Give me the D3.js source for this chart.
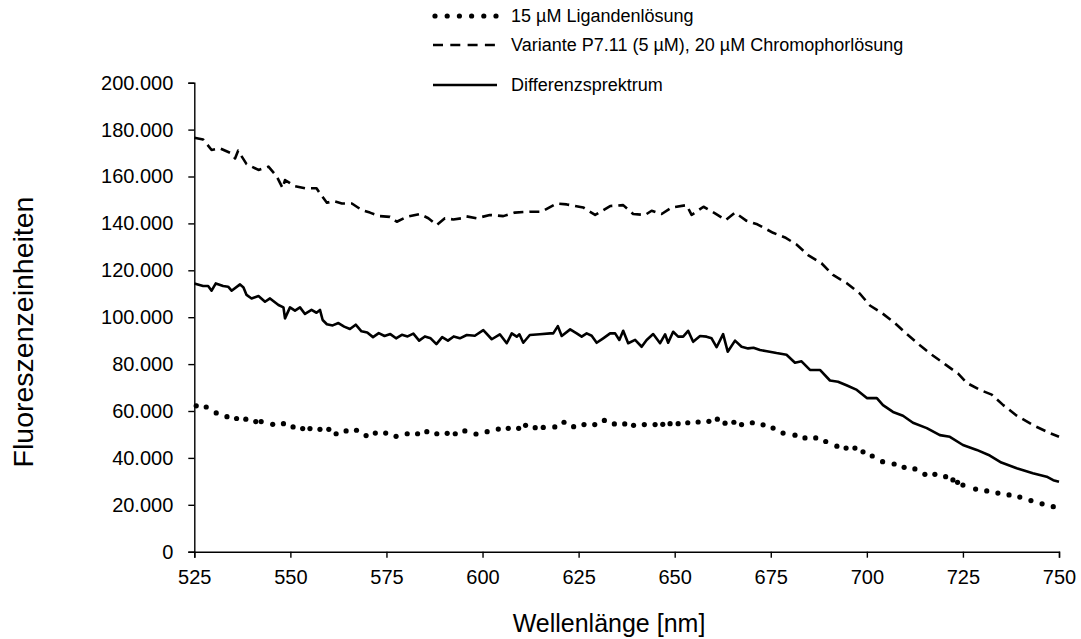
<!DOCTYPE html>
<html>
<head>
<meta charset="utf-8">
<script src="https://cdn.jsdelivr.net/npm/d3@7"></script>
<style>
  html, body { margin: 0; padding: 0; background: #fff; }
  svg { display: block; font-family: "Liberation Sans", Arial, sans-serif; }
</style>
</head>
<body>
<svg id="chart" width="1081" height="639"></svg>
<script>
// Wellenlänge [nm] und Fluoreszenz je Messreihe

// 15 µM Ligandenlösung
const ligandWl = [525.5,528.1,530.7,533.5,536.0,538.4,541.0,542.4,545.4,548.2,550.7,553.2,555.1,557.7,560.0,561.9,564.5,567.2,569.7,572.1,574.8,577.5,580.4,583.1,585.5,588.1,590.8,592.9,595.4,598.3,601.2,604.1,606.7,609.4,611.2,613.7,615.8,618.8,621.2,623.7,626.4,629.2,631.7,634.3,637.0,639.3,642.1,644.9,646.9,648.8,650.9,653.4,656.1,658.9,661.1,663.1,665.4,667.4,670.2,673.0,675.6,678.2,681.3,683.9,686.7,689.3,692.2,694.6,696.9,699.0,701.4,704.1,707.1,709.7,712.5,715.1,717.7,720.5,722.4,723.6,725.0,728.3,731.2,734.1,737.0,739.8,742.7,745.6,748.5];
const ligandVal = [62200,61700,59200,57600,56800,56500,55500,55500,54300,54600,53200,52500,52500,52200,52200,50300,51500,51800,49500,50600,50600,49200,50300,50300,51200,50300,50500,50300,51500,50200,51200,52300,52600,52600,53900,52900,53000,53200,55200,53300,54200,54200,56000,54500,54500,53900,54200,54200,54300,54600,54600,55000,55300,55600,56500,54800,55200,54200,55000,54100,52700,50600,49700,48500,48500,47000,45000,44200,44200,42600,40800,38400,37400,36000,35300,33000,33000,32000,30600,29600,28400,26700,25900,25000,24200,23300,21800,20400,19200];

// Variante P7.11 (5 µM), 20 µM Chromophorlösung
const varianteWl = [525.0,527.3,529.5,531.7,534.3,535.6,536.4,538.6,541.7,544.3,546.4,548.0,548.6,551.2,553.8,556.8,557.7,559.5,561.2,563.4,566.0,568.6,570.7,573.3,575.9,577.7,580.3,583.7,585.9,588.1,590.2,592.4,594.6,595.8,598.5,601.9,605.4,608.4,612.3,615.4,619.3,621.9,626.2,629.3,633.2,636.6,639.2,642.3,644.0,646.6,649.2,653.1,654.4,657.5,660.5,663.3,665.7,668.7,671.5,675.6,678.7,681.7,684.7,688.2,691.2,694.7,698.2,700.8,703.9,707.3,710.4,713.8,716.9,720.3,723.7,726.0,729.4,732.5,735.5,739.0,743.2,747.7,750.0];
const varianteVal = [176500,175800,171300,172000,170100,167700,171000,165300,162800,164200,160200,155000,158500,155900,155000,155000,152800,148800,149500,148500,148500,145700,144600,143100,142800,140700,142800,144000,142200,139300,142200,141700,142200,143000,142200,143600,143100,144600,145000,145000,148500,148100,146800,143600,147400,147800,144000,143600,145400,144000,146800,147800,143600,147100,144300,141400,144600,141100,139600,136000,134000,131000,126500,123000,118000,114600,110000,105000,101800,97500,92800,88000,84000,80000,76000,72000,69000,67000,62500,58000,54000,50500,49000];

// Differenzspektrum
const diffWl = [525.0,527.3,528.6,529.5,530.6,532.5,533.8,534.7,536.9,537.8,538.6,539.9,541.7,543.4,544.7,546.9,548.2,548.6,549.9,551.2,552.5,553.8,555.5,556.8,557.7,558.4,559.5,561.0,562.5,564.0,565.5,567.0,568.5,570.0,571.5,573.0,574.5,576.0,577.5,579.0,580.5,582.0,583.5,585.0,586.5,588.0,589.5,591.0,592.5,594.1,595.9,598.0,600.2,602.4,604.5,606.3,607.6,608.9,609.6,610.6,612.3,614.9,617.6,618.4,619.6,620.6,622.8,624.5,625.8,627.1,628.4,629.7,631.4,633.2,634.5,635.6,636.6,637.9,639.7,641.4,642.7,644.4,646.2,647.5,648.3,649.6,650.9,652.2,653.5,654.8,656.6,658.3,659.6,660.9,662.6,663.8,665.7,667.4,669.1,670.5,672.2,674.0,676.5,679.1,681.3,683.0,685.2,687.8,690.4,692.5,694.7,697.4,700.0,702.6,704.2,706.8,709.4,712.0,715.6,719.0,721.6,725.0,728.6,732.0,735.0,739.0,743.2,746.8,748.5,750.0];
const diffVal = [114400,113300,113300,111300,114400,113300,113000,111300,114000,112700,109500,108000,109000,106600,108000,105200,104200,99500,104200,102800,104200,101400,103100,101900,103100,98800,97000,96500,97500,96000,95000,96800,94000,93500,91500,93200,92000,92800,91000,92500,91800,93000,90000,91800,91000,88500,91500,90000,91800,91000,92400,92100,94500,90600,92700,88900,93100,91700,92700,89100,92400,92700,93100,93100,96200,92000,94800,93100,91700,93100,92100,89100,91000,93100,93100,90300,94200,88900,90300,87400,90300,92800,88900,92700,89100,93800,91700,91700,94200,89500,92000,91700,91000,87200,92800,85300,90000,87400,86700,87000,86000,85500,84700,84000,80600,81200,77500,77500,73000,72500,71000,69000,65500,65500,62500,59600,58000,55000,52700,49700,49000,45500,43400,41000,38000,35600,33500,32000,30500,29800];

const xTicks = [525,550,575,600,625,650,675,700,725,750];
const yTicks = [0,20000,40000,60000,80000,100000,120000,140000,160000,180000,200000];

const legendLabels = [
  "15 µM Ligandenlösung",
  "Variante P7.11 (5 µM), 20 µM Chromophorlösung",
  "Differenzsprektrum"
];

const svg = d3.select("#chart");
const plotLeft = 194.3, plotRight = 1059, plotTop = 82.7, plotBottom = 551.7;

const x = d3.scaleLinear().domain([525, 750]).range([plotLeft, plotRight]);
const y = d3.scaleLinear().domain([0, 200000]).range([plotBottom, plotTop]);

const de = d3.formatLocale({decimal: ",", thousands: ".", grouping: [3], currency: ["", " €"]});
const fmt = de.format(",d");

// Achsen
const gx = svg.append("g").attr("transform", `translate(0,${plotBottom})`)
  .call(d3.axisBottom(x).tickValues(xTicks).tickSize(6).tickPadding(12).tickFormat(d3.format("d")));
const gy = svg.append("g").attr("transform", `translate(${plotLeft},0)`)
  .call(d3.axisLeft(y).tickValues(yTicks).tickSize(6).tickPadding(15).tickFormat(fmt));
[gx, gy].forEach(g => {
  g.select(".domain").attr("stroke", "#000").attr("stroke-width", 1.4);
  g.selectAll(".tick line").attr("stroke", "#000").attr("stroke-width", 1.4);
  g.selectAll(".tick text").attr("fill", "#000").style("font-size", "20px")
    .style("font-family", '"Liberation Sans", Arial, sans-serif');
});

// Achsentitel
svg.append("text").attr("x", 609).attr("y", 632).attr("text-anchor", "middle")
  .style("font-size", "25px").attr("fill", "#000").text("Wellenlänge [nm]");
svg.append("text").attr("transform", "translate(33,332) rotate(-90)").attr("text-anchor", "middle")
  .style("font-size", "28.5px").attr("fill", "#000").text("Fluoreszenzeinheiten");

const line = d3.line().x(d => x(d[0])).y(d => y(d[1]));
const zip = (a, b) => a.map((v, i) => [v, b[i]]);

const plot = svg.append("g");
// Variante (gestrichelt)
plot.append("path").datum(zip(varianteWl, varianteVal)).attr("d", line)
  .attr("fill", "none").attr("stroke", "#000").attr("stroke-width", 2.6)
  .attr("stroke-dasharray", "10,6").attr("stroke-linejoin", "round");
// Differenzspektrum (durchgezogen)
plot.append("path").datum(zip(diffWl, diffVal)).attr("d", line)
  .attr("fill", "none").attr("stroke", "#000").attr("stroke-width", 2.6)
  .attr("stroke-linejoin", "round");
// Ligandenlösung (gepunktet)
plot.selectAll("circle.lig").data(zip(ligandWl, ligandVal)).join("circle")
  .attr("class", "lig").attr("cx", d => x(d[0])).attr("cy", d => y(d[1]))
  .attr("r", 2.6).attr("fill", "#000");

// Legende
const lg = svg.append("g");
const rowsY = [16, 45, 85];
const symX0 = 433, symX1 = 497, textX = 511;
d3.range(6).forEach(i => {
  lg.append("circle").attr("cx", symX0 + 2 + i * 12.2).attr("cy", rowsY[0]).attr("r", 2.6).attr("fill", "#000");
});
lg.append("line").attr("x1", symX0).attr("x2", symX1).attr("y1", rowsY[1]).attr("y2", rowsY[1])
  .attr("stroke", "#000").attr("stroke-width", 2.6).attr("stroke-dasharray", "10,7.3");
lg.append("line").attr("x1", symX0).attr("x2", symX1).attr("y1", rowsY[2]).attr("y2", rowsY[2])
  .attr("stroke", "#000").attr("stroke-width", 2.6);
legendLabels.forEach((t, i) => {
  lg.append("text").attr("x", textX).attr("y", rowsY[i]).attr("dy", "0.35em")
    .style("font-size", "18px").attr("fill", "#000").text(t);
});
</script>
</body>
</html>
